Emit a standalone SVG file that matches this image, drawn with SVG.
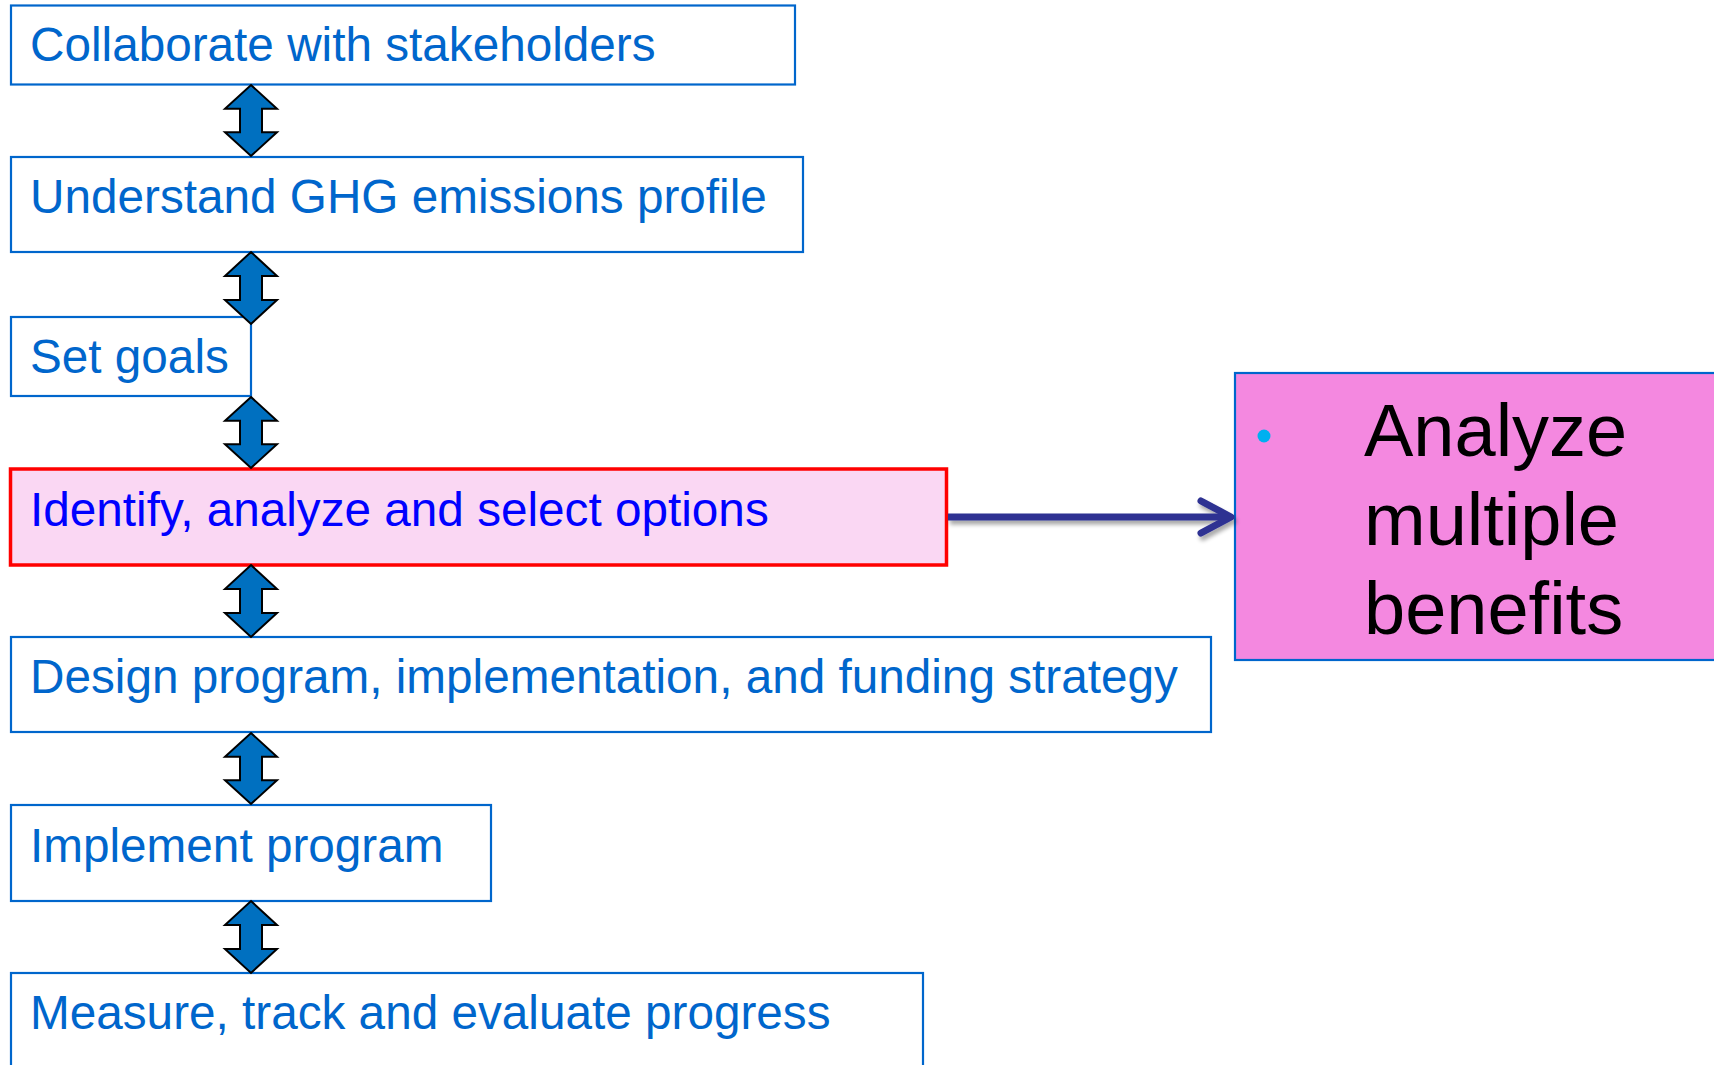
<svg xmlns="http://www.w3.org/2000/svg" width="1714" height="1065" viewBox="0 0 1714 1065">
<style>
.box{fill:#FFFFFF;stroke:#0066CC;stroke-width:2.2}
.lbl{font-family:"Liberation Sans",Arial,sans-serif;font-size:47.7px;fill:#0066CC}
.dbl{fill:#0070C0;stroke:#000000;stroke-width:2;stroke-linejoin:miter}
.big{font-family:"Liberation Sans",Arial,sans-serif;font-size:74px;fill:#000000}
</style>
<defs>
<path id="dblarrow" class="dbl" d="M0,0 L26,24 L11,24 L11,48 L26,48 L0,72 L-26,48 L-11,48 L-11,24 L-26,24 Z"/>
<filter id="sh" x="-10%" y="-50%" width="120%" height="200%"><feGaussianBlur in="SourceAlpha" stdDeviation="2"/><feOffset dx="2" dy="4"/><feComponentTransfer><feFuncA type="linear" slope="0.35"/></feComponentTransfer><feMerge><feMergeNode/><feMergeNode in="SourceGraphic"/></feMerge></filter>
</defs>
<rect width="1714" height="1065" fill="#FFFFFF"/>
<g id="node-collaborate">
<rect class="box" x="11" y="5.5" width="784" height="79"/>
<text class="lbl" x="30" y="61">Collaborate with stakeholders</text>
</g>
<g id="node-understand">
<rect class="box" x="11" y="157" width="792" height="95"/>
<text class="lbl" x="30" y="213">Understand GHG emissions profile</text>
</g>
<g id="node-setgoals">
<rect class="box" x="11" y="317" width="240" height="79"/>
<text class="lbl" x="30" y="373">Set goals</text>
</g>
<g id="node-identify">
<rect x="10.5" y="469" width="936" height="96" fill="#FAD7F3" stroke="#FF0000" stroke-width="3.5"/>
<text class="lbl" x="30" y="526" style="fill:#0000FF">Identify, analyze and select options</text>
</g>
<g id="node-design">
<rect class="box" x="11" y="637" width="1200" height="95"/>
<text class="lbl" x="30" y="693">Design program, implementation, and funding strategy</text>
</g>
<g id="node-implement">
<rect class="box" x="11" y="805" width="480" height="96"/>
<text class="lbl" x="30" y="862">Implement program</text>
</g>
<g id="node-measure">
<rect class="box" x="11" y="973" width="912" height="110"/>
<text class="lbl" x="30" y="1029">Measure, track and evaluate progress</text>
</g>
<g id="node-benefits">
<rect x="1235" y="373" width="490" height="287" fill="#F488E0" stroke="#0066CC" stroke-width="2.2"/>
<circle cx="1264" cy="436" r="6.5" fill="#00B0F0"/>
<text class="big" x="1364" y="456">Analyze</text>
<text class="big" x="1364" y="545">multiple</text>
<text class="big" x="1364" y="634">benefits</text>
</g>
<g id="connectors">
<use href="#dblarrow" transform="translate(251,85) scale(1,0.986)"/>
<use href="#dblarrow" transform="translate(251,252)"/>
<use href="#dblarrow" transform="translate(251,397) scale(1,0.986)"/>
<use href="#dblarrow" transform="translate(251,565)"/>
<use href="#dblarrow" transform="translate(251,733) scale(1,0.986)"/>
<use href="#dblarrow" transform="translate(251,901)"/>
<g filter="url(#sh)" fill="none" stroke="#2E3192" stroke-width="7">
<line x1="948" y1="517" x2="1230" y2="517"/>
<polyline points="1201,501 1231,517 1201,533" stroke-linecap="round" stroke-linejoin="round"/>
</g>
</g>
</svg>
